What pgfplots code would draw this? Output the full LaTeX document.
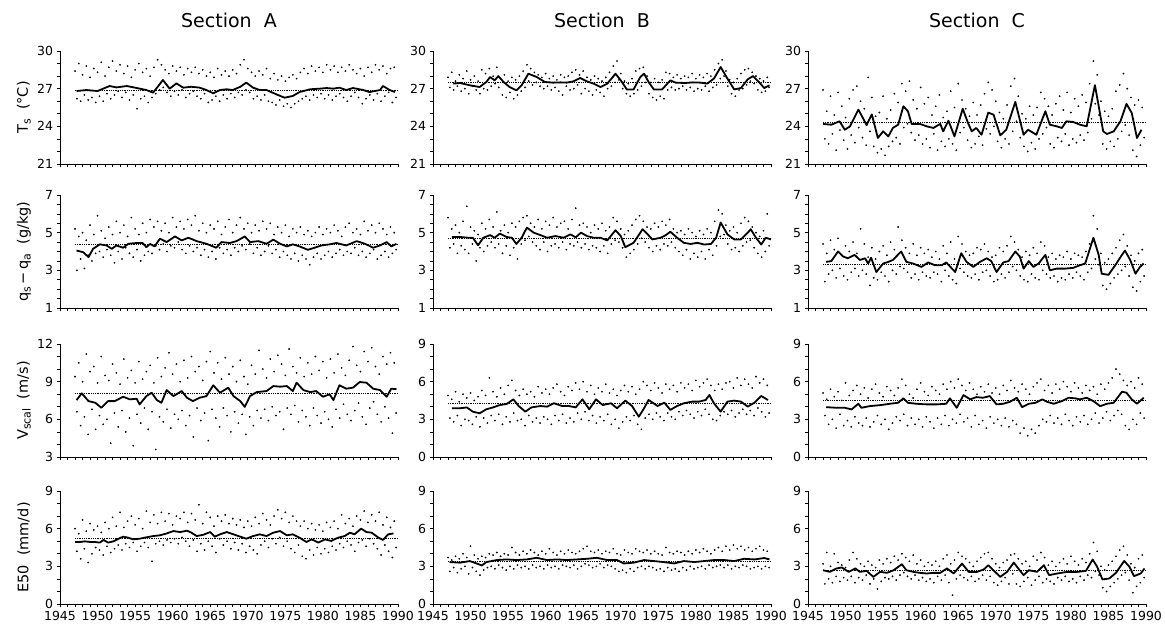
\documentclass[border=0pt]{standalone}
\usepackage{fontspec}
\setmainfont{DejaVu Sans}
\usepackage{pgfplots}
\usepackage{pgfplotstable}
\pgfplotsset{compat=1.18}

\newcommand{\sub}[1]{\raisebox{-0.35ex}{\fontsize{11}{11}\selectfont #1}}

% monthly scatter, two samples per half year (x and xb), sections A, B, C
\pgfplotstableread{
x xb a1 a2 b1 b2 c1 c2
1947.0 1947.25 28.4 26.2 27.9 27.1 26.9 23.0
1947.5 1947.75 29.0 26.0 28.3 26.9 25.2 22.6
1948.0 1948.25 28.1 26.5 27.6 27.2 26.4 23.4
1948.5 1948.75 28.8 26.1 28.1 26.8 24.9 22.1
1949.0 1949.25 27.9 26.3 27.8 27.0 26.7 23.7
1949.5 1949.75 28.6 25.9 28.4 26.6 25.6 22.9
1950.0 1950.25 28.3 26.4 27.7 27.2 24.7 22.2
1950.5 1950.75 29.1 26.0 28.0 26.9 26.2 23.3
1951.0 1951.25 28.0 26.6 27.6 26.6 26.9 22.7
1951.5 1951.75 28.7 26.2 28.5 27.0 27.2 23.9
1952.0 1952.25 29.2 26.5 28.2 26.9 26.0 23.1
1952.5 1952.75 28.4 26.8 28.6 27.2 25.4 22.5
1953.0 1953.25 28.9 26.3 28.0 27.4 27.9 23.6
1953.5 1953.75 28.2 26.7 28.7 27.1 26.3 22.4
1954.0 1954.25 28.8 26.1 27.8 26.5 24.8 21.9
1954.5 1954.75 27.9 26.5 28.1 26.3 25.1 22.2
1955.0 1955.25 28.5 25.4 27.6 26.7 26.4 21.7
1955.5 1955.75 29.0 26.2 27.9 26.2 24.6 22.4
1956.0 1956.25 28.3 26.4 27.7 26.5 25.3 22.8
1956.5 1956.75 28.6 25.9 28.0 26.8 26.6 23.1
1957.0 1957.25 28.0 26.3 28.4 27.1 25.9 22.6
1957.5 1957.75 28.7 26.6 28.9 27.6 27.4 23.9
1958.0 1958.25 29.3 26.9 28.6 27.3 26.8 24.2
1958.5 1958.75 28.9 27.1 28.3 27.5 27.6 23.5
1959.0 1959.25 28.5 26.7 28.1 27.2 26.1 22.9
1959.5 1959.75 28.2 26.4 27.9 27.0 25.4 23.3
1960.0 1960.25 28.8 26.8 28.2 27.2 27.1 22.6
1960.5 1960.75 28.4 26.5 27.8 26.9 25.8 23.0
1961.0 1961.25 28.7 26.9 28.0 27.1 26.3 22.3
1961.5 1961.75 28.1 26.3 27.7 26.8 24.9 23.4
1962.0 1962.25 28.6 26.6 28.1 26.5 25.6 22.1
1962.5 1962.75 28.3 26.8 27.9 27.2 26.5 22.8
1963.0 1963.25 28.7 26.4 28.0 26.9 24.7 22.4
1963.5 1963.75 28.2 26.2 28.3 27.0 25.2 23.0
1964.0 1964.25 28.5 26.6 28.5 27.3 26.8 22.6
1964.5 1964.75 28.0 25.9 28.1 26.6 25.5 22.1
1965.0 1965.25 28.3 26.1 28.4 27.0 27.4 23.5
1965.5 1965.75 27.9 26.4 27.9 26.8 26.1 23.9
1966.0 1966.25 28.6 26.0 27.7 26.5 25.4 22.9
1966.5 1966.75 28.1 26.5 28.0 26.9 24.8 22.3
1967.0 1967.25 28.4 26.2 27.8 26.7 25.9 22.6
1967.5 1967.75 28.0 26.6 27.6 26.4 24.9 23.2
1968.0 1968.25 28.5 26.3 27.9 27.0 25.7 22.5
1968.5 1968.75 28.2 26.7 28.3 27.2 26.6 23.8
1969.0 1969.25 28.9 26.5 28.8 27.5 27.5 23.4
1969.5 1969.75 29.3 26.9 29.2 27.7 26.9 24.0
1970.0 1970.25 28.6 26.7 28.2 27.0 26.0 22.8
1970.5 1970.75 28.3 26.2 27.6 26.6 25.1 22.3
1971.0 1971.25 28.0 26.4 27.4 26.4 24.6 23.0
1971.5 1971.75 28.4 26.1 27.8 26.6 25.7 22.6
1972.0 1972.25 28.1 26.5 28.4 26.9 27.2 23.6
1972.5 1972.75 28.6 26.0 28.6 27.2 27.8 24.4
1973.0 1973.25 27.8 25.9 28.7 27.5 26.4 23.1
1973.5 1973.75 28.2 25.7 28.0 26.6 25.0 22.4
1974.0 1974.25 27.7 26.1 27.5 26.3 24.6 22.0
1974.5 1974.75 28.0 25.6 27.8 26.1 25.6 22.7
1975.0 1975.25 27.6 25.8 27.5 26.4 24.9 22.2
1975.5 1975.75 27.9 25.5 27.7 26.2 25.5 23.0
1976.0 1976.25 28.1 25.8 28.3 26.9 26.7 23.4
1976.5 1976.75 27.8 26.0 28.2 27.1 26.2 23.9
1977.0 1977.25 28.3 26.2 27.9 26.9 25.6 22.6
1977.5 1977.75 28.6 26.4 28.1 27.0 24.9 22.3
1978.0 1978.25 28.2 26.1 27.8 27.2 25.8 23.1
1978.5 1978.75 28.8 26.5 28.0 26.9 26.4 22.8
1979.0 1979.25 28.4 26.3 27.9 27.1 25.3 23.4
1979.5 1979.75 28.7 26.6 28.2 26.8 26.7 22.5
1980.0 1980.25 28.3 26.2 27.8 27.0 25.1 23.0
1980.5 1980.75 28.9 26.5 28.1 26.9 26.2 22.7
1981.0 1981.25 28.5 26.1 27.9 27.2 25.6 23.3
1981.5 1981.75 28.8 26.4 28.2 26.8 26.5 22.9
1982.0 1982.25 28.3 26.6 28.0 27.1 25.9 23.5
1982.5 1982.75 28.7 26.3 28.5 27.3 27.4 24.6
1983.0 1983.25 28.4 26.0 29.0 27.8 29.2 25.8
1983.5 1983.75 28.9 26.4 29.3 28.0 28.1 24.9
1984.0 1984.25 28.5 26.7 28.4 27.2 26.0 22.6
1984.5 1984.75 28.2 26.3 27.7 26.6 25.2 22.2
1985.0 1985.25 28.6 25.8 27.5 26.4 24.8 22.8
1985.5 1985.75 28.0 26.2 27.8 26.9 25.4 22.4
1986.0 1986.25 28.7 26.5 28.2 27.0 26.8 23.0
1986.5 1986.75 28.3 26.1 28.5 27.3 27.3 23.6
1987.0 1987.25 28.9 26.6 28.6 27.6 28.2 24.1
1987.5 1987.75 28.5 26.0 28.3 27.4 27.0 23.3
1988.0 1988.25 28.8 26.4 28.0 26.9 26.3 22.1
1988.5 1988.75 28.2 26.7 27.8 26.7 25.7 21.6
1989.0 1989.25 28.6 25.9 27.6 26.8 26.1 22.5
1989.5 1989.75 28.7 26.3 27.9 27.1 25.5 23.1
}\tsdots

\pgfplotstableread{
x xb a1 a2 b1 b2 c1 c2
1947.0 1947.25 5.2 3.0 5.8 4.2 4.4 2.4
1947.5 1947.75 4.8 3.6 5.2 4.4 3.9 2.8
1948.0 1948.25 5.0 3.1 5.4 3.9 4.6 3.0
1948.5 1948.75 4.6 3.8 5.0 4.3 4.1 2.6
1949.0 1949.25 5.4 3.5 5.6 4.1 4.7 3.1
1949.5 1949.75 4.9 3.9 6.4 3.9 3.8 2.7
1950.0 1950.25 5.9 4.0 5.3 4.4 4.3 2.5
1950.5 1950.75 5.1 3.7 5.1 3.5 4.0 2.9
1951.0 1951.25 4.7 4.1 4.9 4.2 4.5 3.1
1951.5 1951.75 5.3 3.8 5.5 4.0 3.9 2.7
1952.0 1952.25 4.9 3.4 5.2 4.3 5.2 3.0
1952.5 1952.75 5.6 4.0 5.7 4.5 4.4 2.8
1953.0 1953.25 5.0 3.6 5.3 4.2 3.7 2.2
1953.5 1953.75 5.4 4.2 6.1 4.4 4.2 2.6
1954.0 1954.25 4.8 3.9 5.1 3.9 3.6 2.5
1954.5 1954.75 5.8 3.7 5.4 4.3 4.0 2.9
1955.0 1955.25 5.2 4.1 5.0 3.8 4.3 2.7
1955.5 1955.75 4.9 3.5 5.5 4.2 3.8 2.4
1956.0 1956.25 5.5 3.8 5.3 3.6 4.5 3.0
1956.5 1956.75 5.0 4.0 5.6 4.4 4.1 2.8
1957.0 1957.25 5.7 3.9 5.8 4.6 5.3 3.2
1957.5 1957.75 5.3 4.3 5.9 4.8 4.6 3.1
1958.0 1958.25 5.6 4.1 5.5 4.5 4.2 2.9
1958.5 1958.75 5.1 4.4 5.3 4.3 3.9 2.6
1959.0 1959.25 5.5 4.0 5.7 4.1 4.4 2.8
1959.5 1959.75 5.0 4.3 5.2 4.5 3.8 2.5
1960.0 1960.25 5.8 4.2 5.6 4.0 4.2 2.9
1960.5 1960.75 5.3 4.5 5.4 4.3 3.9 2.7
1961.0 1961.25 5.6 4.1 5.8 4.4 4.1 2.6
1961.5 1961.75 5.2 3.9 5.3 4.2 3.7 2.9
1962.0 1962.25 5.7 4.3 5.5 4.5 4.0 2.8
1962.5 1962.75 5.4 4.0 5.6 4.1 3.6 2.4
1963.0 1963.25 5.9 4.2 5.2 4.4 4.3 3.0
1963.5 1963.75 5.1 3.8 5.7 4.3 3.9 2.7
1964.0 1964.25 5.5 4.1 6.3 4.5 4.5 2.5
1964.5 1964.75 5.0 3.7 5.4 4.2 3.6 2.3
1965.0 1965.25 5.4 4.0 5.5 4.4 4.8 3.1
1965.5 1965.75 5.2 3.6 5.3 4.1 4.4 2.9
1966.0 1966.25 5.6 4.2 5.0 4.3 4.0 2.7
1966.5 1966.75 4.9 3.9 5.4 4.2 3.8 2.6
1967.0 1967.25 5.3 4.1 5.2 4.0 3.9 2.8
1967.5 1967.75 5.7 3.8 5.5 4.3 4.2 2.5
1968.0 1968.25 5.0 4.2 5.1 3.9 4.1 2.9
1968.5 1968.75 5.4 4.0 5.3 4.4 4.4 3.0
1969.0 1969.25 5.8 4.3 5.8 4.6 4.0 2.7
1969.5 1969.75 5.2 4.1 5.6 4.5 3.7 2.4
1970.0 1970.25 5.5 4.4 5.2 4.2 3.8 2.5
1970.5 1970.75 5.0 3.9 4.9 3.7 4.2 2.8
1971.0 1971.25 5.4 4.2 5.1 3.9 4.0 2.6
1971.5 1971.75 5.1 3.8 5.4 4.1 4.3 2.9
1972.0 1972.25 5.6 4.0 5.7 4.4 4.8 3.2
1972.5 1972.75 5.2 4.3 5.9 4.7 4.5 3.0
1973.0 1973.25 5.5 3.9 5.6 4.5 4.1 2.7
1973.5 1973.75 4.9 4.1 5.3 4.2 3.7 2.5
1974.0 1974.25 5.3 3.7 5.2 4.0 4.0 2.4
1974.5 1974.75 5.0 4.0 5.5 4.3 3.8 2.8
1975.0 1975.25 5.4 3.8 5.3 4.1 4.2 2.6
1975.5 1975.75 4.8 3.6 5.6 4.4 3.9 2.5
1976.0 1976.25 5.2 3.9 5.4 4.3 4.5 3.0
1976.5 1976.75 5.0 3.5 5.7 4.5 4.3 2.8
1977.0 1977.25 5.3 3.8 5.2 4.2 3.7 2.6
1977.5 1977.75 4.9 3.6 5.0 4.0 3.9 2.7
1978.0 1978.25 5.1 3.3 5.1 3.8 3.6 2.4
1978.5 1978.75 4.8 3.7 4.9 4.1 3.8 2.6
1979.0 1979.25 5.0 3.9 5.2 3.6 3.7 2.5
1979.5 1979.75 5.3 3.6 5.0 3.9 4.0 2.8
1980.0 1980.25 4.9 3.8 4.8 3.7 3.6 2.6
1980.5 1980.75 5.2 4.0 5.1 4.0 3.9 2.9
1981.0 1981.25 5.0 3.7 4.9 3.6 3.8 2.7
1981.5 1981.75 5.4 3.9 5.2 4.1 3.7 2.5
1982.0 1982.25 5.1 4.1 5.0 3.8 4.0 2.9
1982.5 1982.75 4.8 3.8 5.6 4.3 4.4 3.1
1983.0 1983.25 5.3 4.0 6.2 4.8 5.9 3.6
1983.5 1983.75 5.5 3.9 6.0 4.9 5.2 3.3
1984.0 1984.25 5.0 4.2 5.4 4.4 3.9 2.2
1984.5 1984.75 5.2 3.8 5.1 4.1 3.4 2.0
1985.0 1985.25 4.9 4.0 5.3 4.2 3.6 2.3
1985.5 1985.75 5.6 3.7 5.0 4.0 3.9 2.6
1986.0 1986.25 5.1 3.9 5.5 4.3 4.2 2.8
1986.5 1986.75 5.4 4.1 5.8 4.5 4.6 3.0
1987.0 1987.25 5.0 3.6 5.6 4.6 4.9 3.2
1987.5 1987.75 5.5 3.8 5.3 4.2 4.3 2.7
1988.0 1988.25 5.2 4.0 5.0 3.9 3.8 2.1
1988.5 1988.75 4.9 3.7 4.8 3.7 3.5 1.9
1989.0 1989.25 5.3 3.9 5.1 4.0 3.9 2.4
1989.5 1989.75 5.0 4.1 6.0 4.3 4.1 2.7
}\qdots

\pgfplotstableread{
x xb a1 a2 b1 b2 c1 c2
1947.0 1947.25 9.4 6.6 4.9 3.1 5.1 3.3
1947.5 1947.75 10.5 5.5 4.6 2.8 4.6 2.6
1948.0 1948.25 9.0 6.2 5.2 3.3 5.4 3.0
1948.5 1948.75 11.2 4.8 4.4 2.5 4.8 2.3
1949.0 1949.25 9.8 6.8 5.0 3.0 5.2 3.4
1949.5 1949.75 10.2 5.2 4.7 2.9 4.5 2.5
1950.0 1950.25 8.9 6.3 5.1 2.6 5.9 2.9
1950.5 1950.75 11.0 5.6 4.5 3.2 4.9 2.4
1951.0 1951.25 9.5 6.0 4.8 2.4 5.3 3.2
1951.5 1951.75 9.1 4.1 5.3 3.1 5.7 2.7
1952.0 1952.25 10.4 6.5 4.9 2.7 5.0 2.5
1952.5 1952.75 9.7 5.4 6.3 3.3 5.5 3.1
1953.0 1953.25 8.8 6.7 5.2 2.9 4.7 2.4
1953.5 1953.75 10.8 5.0 4.8 3.4 5.4 2.8
1954.0 1954.25 9.3 6.1 5.5 2.6 5.8 3.3
1954.5 1954.75 9.9 3.9 5.0 3.2 5.1 2.6
1955.0 1955.25 8.9 6.4 5.7 2.8 4.8 3.0
1955.5 1955.75 10.6 5.7 6.1 3.5 5.6 2.2
1956.0 1956.25 9.2 6.9 5.3 2.9 5.3 2.7
1956.5 1956.75 9.8 5.2 4.9 3.0 4.9 3.2
1957.0 1957.25 10.3 6.6 5.4 2.5 5.5 2.9
1957.5 1957.75 8.9 3.6 5.0 3.3 6.2 3.4
1958.0 1958.25 10.9 6.2 5.2 2.8 5.7 2.5
1958.5 1958.75 9.4 5.8 4.8 3.1 5.0 3.1
1959.0 1959.25 10.1 6.8 5.6 2.7 4.7 2.6
1959.5 1959.75 11.3 5.3 5.1 3.2 5.4 3.0
1960.0 1960.25 9.6 6.4 5.4 3.0 5.9 2.4
1960.5 1960.75 10.4 6.0 5.0 2.6 5.2 3.2
1961.0 1961.25 9.0 6.7 5.5 3.3 4.9 2.8
1961.5 1961.75 10.7 5.5 5.8 2.9 5.6 2.3
1962.0 1962.25 9.3 6.3 5.2 3.4 5.3 3.1
1962.5 1962.75 11.0 4.6 4.9 2.7 5.0 2.6
1963.0 1963.25 9.8 6.9 5.6 3.1 5.8 3.3
1963.5 1963.75 10.2 5.9 5.3 2.8 5.4 2.5
1964.0 1964.25 9.1 6.5 5.9 3.5 6.0 3.0
1964.5 1964.75 10.6 4.3 5.4 3.0 5.5 2.7
1965.0 1965.25 11.4 6.8 6.0 3.6 6.2 3.4
1965.5 1965.75 9.7 6.1 5.2 2.9 5.7 2.8
1966.0 1966.25 10.5 5.4 5.7 3.3 5.3 3.1
1966.5 1966.75 9.2 6.9 5.0 2.7 5.9 2.4
1967.0 1967.25 10.9 6.3 5.5 3.2 5.4 3.3
1967.5 1967.75 9.6 5.0 5.2 2.9 5.0 2.6
1968.0 1968.25 10.2 6.6 5.8 3.4 5.6 2.9
1968.5 1968.75 9.0 5.7 5.1 2.6 5.2 2.3
1969.0 1969.25 10.7 6.4 5.4 3.0 5.8 3.2
1969.5 1969.75 9.4 4.8 4.9 2.3 5.1 2.7
1970.0 1970.25 8.8 6.2 5.3 2.8 5.5 3.0
1970.5 1970.75 10.3 5.5 5.7 3.2 5.0 2.5
1971.0 1971.25 9.6 6.7 5.2 2.9 5.7 3.1
1971.5 1971.75 11.5 6.1 5.6 3.3 5.3 2.4
1972.0 1972.25 10.0 6.8 5.0 2.6 6.1 2.9
1972.5 1972.75 9.3 5.9 5.4 2.2 5.5 2.6
1973.0 1973.25 10.8 7.0 6.0 3.1 5.2 1.9
1973.5 1973.75 9.8 6.3 5.7 3.4 5.8 2.3
1974.0 1974.25 11.1 6.6 5.3 3.0 5.4 1.7
1974.5 1974.75 10.4 5.2 5.9 3.5 5.0 2.2
1975.0 1975.25 9.5 6.9 5.5 3.2 5.6 1.9
1975.5 1975.75 11.6 6.4 5.1 2.9 5.9 2.5
1976.0 1976.25 10.2 7.1 5.8 3.5 6.2 3.0
1976.5 1976.75 9.7 5.8 5.4 3.2 5.3 2.8
1977.0 1977.25 10.9 6.7 5.7 3.0 5.7 3.3
1977.5 1977.75 9.4 6.2 5.2 3.6 5.1 2.7
1978.0 1978.25 10.5 5.5 5.9 3.3 5.8 3.1
1978.5 1978.75 9.6 6.9 5.5 3.7 5.4 2.6
1979.0 1979.25 11.0 6.3 5.8 3.4 6.0 3.4
1979.5 1979.75 9.9 5.7 5.3 3.1 5.6 2.9
1980.0 1980.25 10.6 6.6 6.1 3.6 5.2 2.5
1980.5 1980.75 9.3 6.0 5.6 3.3 5.9 3.2
1981.0 1981.25 10.8 5.4 5.9 3.8 5.5 2.8
1981.5 1981.75 9.7 6.8 6.2 3.4 5.1 3.3
1982.0 1982.25 11.2 6.1 5.7 3.0 5.7 2.6
1982.5 1982.75 10.1 7.2 5.3 2.9 5.3 3.0
1983.0 1983.25 9.5 6.4 5.8 3.3 5.6 3.5
1983.5 1983.75 10.7 5.9 5.4 3.6 5.0 2.7
1984.0 1984.25 11.8 6.7 5.9 3.4 5.8 3.1
1984.5 1984.75 10.3 7.3 6.0 3.7 5.4 3.6
1985.0 1985.25 9.8 6.2 5.5 3.2 5.9 2.9
1985.5 1985.75 11.4 5.6 6.3 3.5 6.3 3.3
1986.0 1986.25 10.6 6.9 5.7 3.8 7.0 3.7
1986.5 1986.75 11.7 7.4 6.2 3.4 6.6 3.4
1987.0 1987.25 10.2 6.4 5.8 3.7 6.1 2.5
1987.5 1987.75 9.6 5.8 5.5 3.3 5.7 2.2
1988.0 1988.25 11.0 7.0 6.4 3.9 6.0 3.0
1988.5 1988.75 10.4 6.1 5.9 3.6 5.5 2.6
1989.0 1989.25 11.3 4.9 6.2 3.2 6.3 3.5
1989.5 1989.75 10.5 6.5 5.7 3.5 5.8 3.1
}\vdots

\pgfplotstableread{
x xb a1 a2 b1 b2 c1 c2
1947.0 1947.25 6.0 4.2 3.7 2.6 3.2 1.6
1947.5 1947.75 5.6 3.6 3.5 2.9 4.1 2.0
1948.0 1948.25 6.7 4.4 3.8 2.5 3.0 1.7
1948.5 1948.75 5.8 3.3 3.6 2.8 4.0 2.2
1949.0 1949.25 6.4 4.0 4.0 3.0 3.3 1.8
1949.5 1949.75 5.9 4.5 3.7 2.4 3.1 2.1
1950.0 1950.25 6.2 4.3 4.6 2.9 2.9 1.9
1950.5 1950.75 5.7 3.9 3.9 2.6 3.5 2.2
1951.0 1951.25 6.5 4.6 3.6 2.3 4.1 1.7
1951.5 1951.75 6.0 4.1 3.8 2.7 3.6 2.1
1952.0 1952.25 6.9 4.4 3.7 2.9 3.2 1.9
1952.5 1952.75 6.2 4.7 4.0 3.0 3.0 2.3
1953.0 1953.25 7.3 4.3 3.9 2.8 3.4 1.6
1953.5 1953.75 6.1 4.8 4.1 3.1 3.1 2.0
1954.0 1954.25 6.6 4.5 3.8 2.9 2.9 1.2
1954.5 1954.75 7.0 4.9 4.0 2.7 3.5 1.8
1955.0 1955.25 6.3 4.2 3.9 3.0 3.2 2.1
1955.5 1955.75 6.8 4.6 4.5 2.8 3.6 2.0
1956.0 1956.25 6.0 4.9 4.1 3.1 3.3 2.2
1956.5 1956.75 7.4 4.5 3.9 2.9 3.8 1.9
1957.0 1957.25 6.5 3.4 4.2 3.0 3.5 2.3
1957.5 1957.75 7.1 4.8 4.0 2.8 4.0 2.5
1958.0 1958.25 6.4 5.0 4.3 3.1 3.7 2.2
1958.5 1958.75 7.3 4.7 4.1 2.9 3.4 2.0
1959.0 1959.25 6.6 5.1 3.9 3.0 3.9 2.3
1959.5 1959.75 7.2 4.9 4.2 2.8 3.2 1.9
1960.0 1960.25 6.3 5.2 4.0 3.1 3.5 2.1
1960.5 1960.75 7.0 4.8 4.4 2.9 3.0 1.8
1961.0 1961.25 6.8 5.3 4.1 3.0 3.3 2.0
1961.5 1961.75 7.3 5.0 3.9 2.8 3.1 1.7
1962.0 1962.25 6.5 4.6 4.2 3.1 3.4 2.2
1962.5 1962.75 7.2 5.1 4.0 3.0 3.0 1.9
1963.0 1963.25 6.7 4.2 4.3 2.9 3.6 2.3
1963.5 1963.75 7.9 4.8 4.1 3.1 3.9 1.7
1964.0 1964.25 6.4 4.3 4.0 2.8 3.2 0.7
1964.5 1964.75 7.3 5.0 4.2 3.0 3.5 2.0
1965.0 1965.25 6.9 4.6 4.4 3.2 4.1 2.3
1965.5 1965.75 6.2 4.1 4.6 3.1 3.8 2.1
1966.0 1966.25 7.0 5.2 4.2 2.9 3.6 1.9
1966.5 1966.75 6.6 4.7 4.1 3.0 3.3 2.2
1967.0 1967.25 7.1 5.0 4.3 3.2 3.0 1.8
1967.5 1967.75 6.4 4.4 4.0 2.9 3.4 2.0
1968.0 1968.25 6.8 4.9 4.2 3.1 3.7 2.3
1968.5 1968.75 6.3 4.3 4.1 3.0 4.0 1.9
1969.0 1969.25 6.7 4.8 4.4 2.8 4.1 2.2
1969.5 1969.75 6.1 4.1 4.0 2.6 3.6 1.7
1970.0 1970.25 6.6 4.6 3.9 2.7 3.2 1.5
1970.5 1970.75 6.2 4.3 4.3 2.5 2.9 1.8
1971.0 1971.25 6.9 4.0 4.1 2.8 3.3 2.1
1971.5 1971.75 6.4 4.7 4.0 2.6 3.5 1.6
1972.0 1972.25 7.2 5.0 4.4 2.9 3.9 2.4
1972.5 1972.75 6.7 4.5 4.2 3.0 4.0 1.6
1973.0 1973.25 6.3 5.2 4.1 2.8 3.6 1.4
1973.5 1973.75 7.0 4.8 4.3 3.0 3.2 1.8
1974.0 1974.25 7.5 5.3 4.0 2.9 3.4 2.1
1974.5 1974.75 6.8 4.6 4.2 2.7 3.0 1.5
1975.0 1975.25 7.3 5.0 4.0 2.8 3.8 1.9
1975.5 1975.75 6.5 4.4 3.9 2.6 3.5 2.2
1976.0 1976.25 7.0 4.1 4.5 2.9 4.1 1.7
1976.5 1976.75 6.6 4.7 4.1 2.7 3.7 2.0
1977.0 1977.25 6.2 3.8 4.0 2.8 3.1 1.8
1977.5 1977.75 6.6 3.6 4.2 2.6 3.4 1.6
1978.0 1978.25 6.0 4.3 4.1 2.9 3.0 2.1
1978.5 1978.75 6.4 3.9 3.9 2.7 3.3 1.9
1979.0 1979.25 5.9 4.5 4.2 3.0 3.6 2.2
1979.5 1979.75 6.3 4.0 4.0 2.8 3.2 1.8
1980.0 1980.25 5.8 4.4 4.3 2.9 3.8 2.0
1980.5 1980.75 6.5 4.1 4.1 3.0 3.4 1.7
1981.0 1981.25 6.1 4.6 4.4 2.8 3.1 2.2
1981.5 1981.75 6.6 4.3 4.2 3.1 3.6 1.9
1982.0 1982.25 6.0 4.8 4.0 2.9 3.3 2.3
1982.5 1982.75 7.1 4.5 4.3 3.0 4.0 2.1
1983.0 1983.25 6.4 5.0 4.5 3.1 4.9 2.6
1983.5 1983.75 6.8 4.7 4.2 2.9 4.2 2.3
1984.0 1984.25 6.2 4.2 4.6 3.1 3.0 1.3
1984.5 1984.75 7.0 4.9 4.3 2.8 2.7 1.0
1985.0 1985.25 6.7 5.1 4.7 3.0 3.1 1.4
1985.5 1985.75 7.4 4.6 4.4 2.9 3.4 1.7
1986.0 1986.25 6.5 5.2 4.6 3.1 3.8 2.0
1986.5 1986.75 7.1 4.8 4.3 3.0 4.3 2.3
1987.0 1987.25 6.6 4.4 4.5 2.8 4.6 2.5
1987.5 1987.75 7.3 3.9 4.2 2.9 3.9 1.9
1988.0 1988.25 6.3 4.7 4.4 3.0 3.2 0.9
1988.5 1988.75 6.9 4.2 4.6 2.8 2.9 1.4
1989.0 1989.25 6.1 3.7 4.3 3.0 3.6 1.7
1989.5 1989.75 6.6 4.5 4.2 2.9 3.9 2.1
}\edots

\pgfplotsset{
  panel/.style={
    scale only axis, width=338pt, height=113pt,
    xmin=1945, xmax=1990,
    axis x line*=bottom, axis y line*=left,
    axis line style={-, line width=0.8pt},
    xtick={1945,1950,...,1990}, minor x tick num=4,
    tick align=outside, major tick length=3.5pt, minor tick length=3pt,
    every tick/.style={black, line width=0.6pt},
    ticklabel style={font=\fontsize{12.5}{12.5}\selectfont},
    /pgf/number format/assume math mode=true,
    /pgf/number format/1000 sep={},
    every axis y label/.style={at={(axis description cs:-0.107,0.5)}, rotate=90, anchor=center,
      font=\fontsize{14.5}{14.5}\selectfont},
    title style={font=\fontsize{19}{19}\selectfont, at={(0.5,1)}, anchor=south, yshift=14pt},
    clip=false,
  },
  noxl/.style={xticklabels={}},
  dots/.style={only marks, mark=*, mark size=0.65pt, black},
  smooth line/.style={black, line width=1.8pt, line join=round},
  mean/.style={black, densely dotted, line width=0.8pt},
}

\begin{document}
\begin{tikzpicture}
\useasboundingbox (0,0) rectangle (1165pt,631pt);

% ---------- row 1: Ts ----------
\begin{axis}[panel, noxl, at={(60pt,467pt)}, anchor=south west,
  ymin=21, ymax=30, ytick={21,24,27,30}, minor y tick num=2,
  ylabel={T\sub{s}\ \ (°C)}, title={Section\ \ A}]
\addplot[mean] coordinates {(1947,26.9) (1990,26.9)};
\addplot[dots] table[x=x, y=a1] {\tsdots};
\addplot[dots] table[x=xb, y=a2] {\tsdots};
\addplot[smooth line] coordinates {
(1947.2,26.81) (1948.5,26.89) (1950.0,26.81) (1951.6,27.21) (1952.5,27.10) (1953.9,27.21)
(1955.0,27.08) (1956.5,26.89) (1957.4,26.68) (1958.7,27.69) (1959.6,27.00) (1960.5,27.42)
(1961.4,27.08) (1962.5,27.15) (1963.6,27.08) (1964.5,26.89) (1965.4,26.63) (1966.3,26.89)
(1967.2,26.95) (1968.0,26.89) (1969.0,27.15) (1969.8,27.48) (1970.7,27.08) (1971.6,26.89)
(1972.5,26.89) (1973.8,26.55) (1974.9,26.28) (1976.0,26.42) (1976.9,26.73) (1978.3,26.95)
(1979.6,27.00) (1980.5,27.05) (1981.4,27.00) (1982.2,27.08) (1983.1,26.89) (1984.0,27.05)
(1985.4,26.89) (1986.2,26.73) (1987.6,26.89) (1988.0,27.21) (1988.9,26.89) (1989.6,26.73)};
\end{axis}

\begin{axis}[panel, noxl, at={(433pt,467pt)}, anchor=south west,
  ymin=21, ymax=30, ytick={21,24,27,30}, minor y tick num=2, title={Section\ \ B}]
\addplot[mean] coordinates {(1947,27.5) (1990,27.5)};
\addplot[dots] table[x=x, y=b1] {\tsdots};
\addplot[dots] table[x=xb, y=b2] {\tsdots};
\addplot[smooth line] coordinates {
(1947.7,27.40) (1948.6,27.45) (1949.9,27.27) (1951.2,27.13) (1952.1,27.53) (1952.6,27.93)
(1953.2,27.66) (1953.7,28.00) (1954.4,27.53) (1955.2,27.13) (1956.1,26.86) (1956.8,27.27)
(1957.7,28.19) (1958.8,27.93) (1959.9,27.53) (1961.0,27.48) (1962.0,27.50) (1962.8,27.48)
(1963.7,27.58) (1964.6,27.85) (1965.5,27.58) (1966.4,27.40) (1967.3,27.13) (1968.2,27.40)
(1969.3,28.19) (1970.0,27.66) (1970.8,26.94) (1971.7,26.94) (1972.6,27.93) (1973.1,28.19)
(1973.7,27.53) (1974.4,26.94) (1975.5,26.94) (1976.6,27.66) (1977.3,27.48) (1978.5,27.45)
(1979.6,27.50) (1980.6,27.48) (1981.5,27.40) (1982.4,27.80) (1983.3,28.72) (1984.2,27.80)
(1985.1,26.94) (1986.0,27.05) (1986.9,27.74) (1987.6,28.00) (1988.4,27.53) (1989.1,27.05)
(1989.8,27.27)};
\end{axis}

\begin{axis}[panel, noxl, at={(808pt,467pt)}, anchor=south west,
  ymin=21, ymax=30, ytick={21,24,27,30}, minor y tick num=2, title={Section\ \ C}]
\addplot[mean] coordinates {(1947,24.3) (1990,24.3)};
\addplot[dots] table[x=x, y=c1] {\tsdots};
\addplot[dots] table[x=xb, y=c2] {\tsdots};
\addplot[smooth line] coordinates {
(1947.0,24.19) (1948.1,24.13) (1949.2,24.40) (1949.9,23.73) (1950.6,24.00) (1951.7,25.33)
(1952.1,24.90) (1952.8,24.10) (1953.5,24.95) (1954.3,23.07) (1955.0,23.60) (1955.7,23.20)
(1956.3,23.87) (1957.0,24.13) (1957.7,25.60) (1958.3,25.20) (1958.8,24.19) (1959.9,24.19)
(1960.8,24.00) (1961.7,23.87) (1962.6,24.19) (1963.0,23.60) (1963.7,24.45) (1964.5,23.20)
(1965.6,25.40) (1966.3,24.27) (1966.8,23.60) (1967.4,23.87) (1968.1,23.33) (1969.0,25.09)
(1969.7,24.93) (1970.6,23.28) (1971.4,23.73) (1972.6,25.95) (1973.7,23.33) (1974.3,23.73)
(1975.4,23.33) (1976.6,25.20) (1977.2,24.13) (1978.1,24.00) (1978.8,23.87) (1979.4,24.40)
(1980.3,24.35) (1981.2,24.13) (1982.1,24.00) (1983.2,27.28) (1984.3,23.60) (1984.8,23.39)
(1985.7,23.60) (1986.6,24.40) (1987.4,25.79) (1988.1,25.07) (1988.8,23.07) (1989.4,23.73)};
\end{axis}

% ---------- row 2: qs - qa ----------
\begin{axis}[panel, noxl, at={(60pt,323pt)}, anchor=south west,
  ymin=1, ymax=7, ytick={1,3,5,7}, minor y tick num=3,
  ylabel={q\sub{s}\,−\,q\sub{a}\ \ (g/kg)}]
\addplot[mean] coordinates {(1947,4.4) (1990,4.4)};
\addplot[dots] table[x=x, y=a1] {\qdots};
\addplot[dots] table[x=xb, y=a2] {\qdots};
\addplot[smooth line] coordinates {
(1947.2,4.05) (1948.1,3.96) (1948.8,3.70) (1949.4,4.14) (1950.3,4.38) (1951.2,4.32)
(1951.9,4.14) (1952.5,4.32) (1953.4,4.20) (1954.1,4.41) (1955.2,4.45) (1956.0,4.45)
(1956.5,4.23) (1957.0,4.40) (1957.6,4.27) (1958.3,4.68) (1959.2,4.50) (1960.3,4.80)
(1961.2,4.59) (1962.1,4.73) (1963.2,4.55) (1964.5,4.41) (1965.8,4.20) (1966.5,4.50)
(1967.6,4.45) (1968.5,4.55) (1969.6,4.80) (1970.3,4.50) (1971.4,4.55) (1972.5,4.41)
(1973.4,4.63) (1974.3,4.41) (1975.2,4.27) (1976.0,4.38) (1976.9,4.27) (1978.0,4.09)
(1978.9,4.20) (1979.8,4.32) (1980.9,4.38) (1981.8,4.45) (1983.1,4.32) (1984.5,4.55)
(1985.6,4.41) (1986.7,4.20) (1987.6,4.32) (1988.5,4.50) (1989.1,4.27) (1989.8,4.41)};
\end{axis}

\begin{axis}[panel, noxl, at={(433pt,323pt)}, anchor=south west,
  ymin=1, ymax=7, ytick={1,3,5,7}, minor y tick num=3]
\addplot[mean] coordinates {(1947,4.7) (1990,4.7)};
\addplot[dots] table[x=x, y=b1] {\qdots};
\addplot[dots] table[x=xb, y=b2] {\qdots};
\addplot[smooth line] coordinates {
(1947.5,4.77) (1948.6,4.77) (1949.7,4.73) (1950.3,4.73) (1951.0,4.33) (1951.7,4.73)
(1952.6,4.87) (1953.2,4.73) (1953.9,4.95) (1954.8,4.77) (1955.5,4.73) (1956.1,4.40)
(1956.8,4.73) (1957.5,5.27) (1958.4,5.00) (1959.3,4.87) (1960.2,4.73) (1961.3,4.82)
(1962.4,4.73) (1963.3,4.91) (1964.0,4.75) (1964.7,5.00) (1965.5,4.82) (1966.4,4.73)
(1967.3,4.73) (1968.2,4.59) (1969.3,5.13) (1970.0,4.82) (1970.6,4.23) (1971.7,4.46)
(1972.9,5.18) (1973.5,4.95) (1974.2,4.64) (1975.3,4.73) (1976.0,4.87) (1976.6,5.05)
(1977.5,4.73) (1978.4,4.46) (1979.3,4.40) (1980.2,4.46) (1981.1,4.37) (1982.0,4.40)
(1982.7,4.73) (1983.3,5.54) (1984.2,4.91) (1985.1,4.64) (1986.0,4.64) (1986.9,5.00)
(1987.3,5.18) (1988.0,4.73) (1988.7,4.37) (1989.3,4.73) (1990.0,4.64)};
\end{axis}

\begin{axis}[panel, noxl, at={(808pt,323pt)}, anchor=south west,
  ymin=1, ymax=7, ytick={1,3,5,7}, minor y tick num=3]
\addplot[mean] coordinates {(1947,3.3) (1990,3.3)};
\addplot[dots] table[x=x, y=c1] {\qdots};
\addplot[dots] table[x=xb, y=c2] {\qdots};
\addplot[smooth line] coordinates {
(1947.4,3.45) (1948.1,3.49) (1949.0,4.00) (1949.7,3.73) (1950.3,3.64) (1951.2,3.82)
(1951.9,3.55) (1952.6,3.64) (1953.0,3.36) (1953.4,3.67) (1954.1,2.91) (1955.0,3.36)
(1955.7,3.45) (1956.3,3.55) (1957.4,4.00) (1958.1,3.45) (1959.0,3.36) (1960.1,3.18)
(1961.0,3.42) (1961.9,3.27) (1962.8,3.27) (1963.4,3.42) (1964.6,2.91) (1965.4,3.91)
(1966.1,3.45) (1967.0,3.18) (1967.9,3.45) (1968.8,3.64) (1969.4,3.49) (1970.1,2.91)
(1971.0,3.42) (1971.7,3.49) (1972.6,4.00) (1973.2,3.73) (1973.7,3.09) (1974.4,3.49)
(1975.0,3.18) (1975.7,3.36) (1976.6,3.82) (1977.2,3.00) (1978.1,3.09) (1979.2,3.09)
(1980.3,3.13) (1981.2,3.27) (1981.9,3.36) (1983.0,4.73) (1983.7,3.82) (1984.1,2.82)
(1985.0,2.76) (1985.9,3.27) (1986.8,3.82) (1987.2,4.05) (1987.9,3.55) (1988.6,2.82)
(1989.2,3.18) (1989.7,3.36)};
\end{axis}

% ---------- row 3: Vscal ----------
\begin{axis}[panel, noxl, at={(60pt,174pt)}, anchor=south west,
  ymin=3, ymax=12, ytick={3,6,9,12}, minor y tick num=2,
  ylabel={V\sub{scal}\ \ (m/s)}]
\addplot[mean] coordinates {(1947,8.1) (1990,8.1)};
\addplot[dots] table[x=x, y=a1] {\vdots};
\addplot[dots] table[x=xb, y=a2] {\vdots};
\addplot[smooth line] coordinates {
(1947.2,7.53) (1947.9,8.07) (1948.8,7.45) (1949.7,7.32) (1950.5,6.92) (1951.4,7.45)
(1952.3,7.45) (1953.4,7.80) (1954.3,7.59) (1955.2,7.64) (1955.6,7.19) (1956.5,7.85)
(1957.2,8.12) (1957.9,7.53) (1958.5,7.32) (1959.2,8.33) (1960.1,7.85) (1961.2,8.25)
(1961.9,7.72) (1962.7,7.45) (1963.6,7.72) (1964.5,7.85) (1965.4,8.71) (1966.3,8.12)
(1967.4,8.52) (1968.1,7.85) (1969.0,7.45) (1969.6,6.99) (1970.3,7.85) (1971.2,8.17)
(1972.5,8.25) (1973.4,8.65) (1974.3,8.60) (1975.2,8.65) (1976.0,8.25) (1976.5,8.92)
(1977.4,8.33) (1978.3,8.17) (1979.1,8.25) (1980.0,7.80) (1980.9,7.99) (1981.4,7.53)
(1982.2,8.71) (1983.1,8.44) (1984.0,8.52) (1984.9,8.97) (1985.8,8.92) (1986.7,8.44)
(1987.6,8.33) (1988.5,7.80) (1989.1,8.44) (1989.8,8.40)};
\end{axis}

\begin{axis}[panel, noxl, at={(433pt,174pt)}, anchor=south west,
  ymin=0, ymax=9, ytick={0,3,6,9}, minor y tick num=2]
\addplot[mean] coordinates {(1947,4.3) (1990,4.3)};
\addplot[dots] table[x=x, y=b1] {\vdots};
\addplot[dots] table[x=xb, y=b2] {\vdots};
\addplot[smooth line] coordinates {
(1947.5,3.88) (1948.6,3.88) (1949.5,3.95) (1950.3,3.61) (1951.2,3.48) (1952.1,3.80)
(1953.0,3.95) (1953.9,4.14) (1954.8,4.22) (1955.7,4.59) (1956.4,4.06) (1957.3,3.61)
(1958.1,3.95) (1959.3,4.06) (1960.2,4.01) (1961.1,4.28) (1962.2,4.06) (1963.1,4.06)
(1964.0,3.95) (1964.9,4.59) (1965.8,3.80) (1966.7,4.59) (1967.6,4.14) (1968.7,4.28)
(1969.5,3.88) (1970.6,4.49) (1971.5,4.06) (1972.4,3.21) (1973.1,3.88) (1973.7,4.54)
(1974.9,4.06) (1975.8,4.33) (1976.6,3.75) (1977.5,4.06) (1978.4,4.28) (1979.5,4.41)
(1980.4,4.41) (1981.3,4.54) (1981.8,4.94) (1982.4,4.28) (1983.3,3.61) (1984.2,4.41)
(1985.1,4.49) (1986.0,4.41) (1986.9,4.01) (1987.8,4.33) (1988.7,4.86) (1989.6,4.54)};
\end{axis}

\begin{axis}[panel, noxl, at={(808pt,174pt)}, anchor=south west,
  ymin=0, ymax=9, ytick={0,3,6,9}, minor y tick num=2]
\addplot[mean] coordinates {(1947,4.5) (1990,4.5)};
\addplot[dots] table[x=x, y=c1] {\vdots};
\addplot[dots] table[x=xb, y=c2] {\vdots};
\addplot[smooth line] coordinates {
(1947.4,3.97) (1948.8,3.92) (1949.9,3.92) (1950.8,3.79) (1951.7,4.24) (1952.1,3.92)
(1953.2,4.05) (1954.6,4.13) (1955.9,4.24) (1957.0,4.32) (1957.7,4.67) (1958.3,4.32)
(1959.4,4.24) (1960.8,4.19) (1962.1,4.19) (1963.4,4.24) (1963.9,4.67) (1964.8,3.92)
(1965.7,4.93) (1966.6,4.59) (1967.4,4.77) (1968.3,4.72) (1969.2,4.85) (1970.1,4.19)
(1971.0,4.24) (1971.9,4.40) (1972.8,4.72) (1973.5,3.97) (1974.4,4.24) (1975.3,4.32)
(1976.2,4.59) (1976.8,4.40) (1977.7,4.24) (1978.8,4.45) (1979.7,4.72) (1980.6,4.67)
(1981.2,4.59) (1982.1,4.72) (1983.0,4.45) (1983.9,4.05) (1984.8,4.24) (1985.7,4.32)
(1986.8,5.20) (1987.4,5.12) (1988.1,4.59) (1988.8,4.24) (1989.7,4.72)};
\end{axis}

% ---------- row 4: E50 ----------
\begin{axis}[panel, at={(60pt,27pt)}, anchor=south west,
  ymin=0, ymax=9, ytick={0,3,6,9}, minor y tick num=2,
  ylabel={E50\ \ (mm/d)}]
\addplot[mean] coordinates {(1947,5.2) (1990,5.2)};
\addplot[dots] table[x=x, y=a1] {\edots};
\addplot[dots] table[x=xb, y=a2] {\edots};
\addplot[smooth line] coordinates {
(1947.0,4.94) (1947.7,4.94) (1948.3,4.99) (1949.0,4.94) (1949.6,4.94) (1950.3,4.89)
(1950.8,5.10) (1951.4,4.89) (1952.1,4.99) (1952.8,5.20) (1953.4,5.36) (1954.1,5.28)
(1954.7,5.15) (1955.6,5.20) (1956.5,5.31) (1957.4,5.41) (1958.3,5.47) (1959.2,5.62)
(1960.1,5.81) (1961.0,5.73) (1961.9,5.84) (1962.5,5.68) (1963.2,5.41) (1964.1,5.52)
(1965.0,5.73) (1965.6,5.36) (1966.3,5.55) (1967.2,5.73) (1968.1,5.55) (1969.0,5.36)
(1969.8,5.20) (1970.7,5.41) (1971.6,5.55) (1972.5,5.41) (1973.4,5.68) (1974.3,5.81)
(1975.2,5.47) (1976.0,5.55) (1976.9,5.28) (1977.8,4.94) (1978.5,5.15) (1979.4,4.89)
(1980.3,5.15) (1981.1,5.02) (1982.0,5.28) (1982.9,5.41) (1983.6,5.68) (1984.2,5.55)
(1985.1,6.00) (1985.8,5.73) (1986.5,5.68) (1987.4,5.28) (1988.0,5.10) (1988.7,5.55)
(1989.4,5.62)};
\end{axis}

\begin{axis}[panel, at={(433pt,27pt)}, anchor=south west,
  ymin=0, ymax=9, ytick={0,3,6,9}, minor y tick num=2]
\addplot[mean] coordinates {(1947,3.4) (1990,3.4)};
\addplot[dots] table[x=x, y=b1] {\edots};
\addplot[dots] table[x=xb, y=b2] {\edots};
\addplot[smooth line] coordinates {
(1947.2,3.34) (1948.6,3.29) (1949.9,3.42) (1950.8,3.23) (1951.5,3.07) (1952.1,3.34)
(1953.5,3.50) (1954.8,3.55) (1956.1,3.50) (1957.5,3.55) (1958.8,3.68) (1960.2,3.50)
(1961.5,3.55) (1962.8,3.50) (1964.2,3.55) (1965.5,3.60) (1966.8,3.68) (1968.2,3.50)
(1969.5,3.50) (1970.4,3.23) (1971.7,3.29) (1973.1,3.50) (1974.4,3.42) (1975.7,3.34)
(1977.1,3.23) (1978.4,3.42) (1979.8,3.34) (1981.1,3.42) (1982.4,3.50) (1983.8,3.50)
(1985.1,3.42) (1986.4,3.60) (1987.8,3.55) (1989.1,3.66) (1989.8,3.55)};
\end{axis}

\begin{axis}[panel, at={(808pt,27pt)}, anchor=south west,
  ymin=0, ymax=9, ytick={0,3,6,9}, minor y tick num=2]
\addplot[mean] coordinates {(1947,2.7) (1990,2.7)};
\addplot[dots] table[x=x, y=c1] {\edots};
\addplot[dots] table[x=xb, y=c2] {\edots};
\addplot[smooth line] coordinates {
(1947.0,2.69) (1947.9,2.56) (1948.8,2.83) (1949.5,2.91) (1950.4,2.56) (1951.3,2.83)
(1951.9,2.56) (1952.8,2.64) (1953.7,2.16) (1954.6,2.56) (1955.5,2.48) (1956.4,2.69)
(1957.5,3.17) (1958.1,2.69) (1959.0,2.56) (1959.9,2.48) (1960.8,2.43) (1961.7,2.48)
(1962.6,2.48) (1963.5,2.83) (1964.4,2.43) (1965.5,3.22) (1966.4,2.56) (1967.5,2.56)
(1968.4,2.75) (1969.0,3.09) (1969.9,2.56) (1970.6,2.16) (1971.5,2.56) (1972.4,3.30)
(1973.1,2.75) (1973.7,2.30) (1974.4,2.69) (1975.5,2.56) (1976.4,3.09) (1977.1,2.30)
(1978.2,2.43) (1979.5,2.56) (1980.9,2.56) (1982.0,2.64) (1982.9,3.54) (1983.5,2.96)
(1984.2,1.96) (1985.1,2.03) (1986.0,2.48) (1986.7,3.09) (1987.1,3.43) (1987.8,2.96)
(1988.4,2.22) (1989.3,2.43) (1989.8,2.83)};
\end{axis}
\end{tikzpicture}
\end{document}
